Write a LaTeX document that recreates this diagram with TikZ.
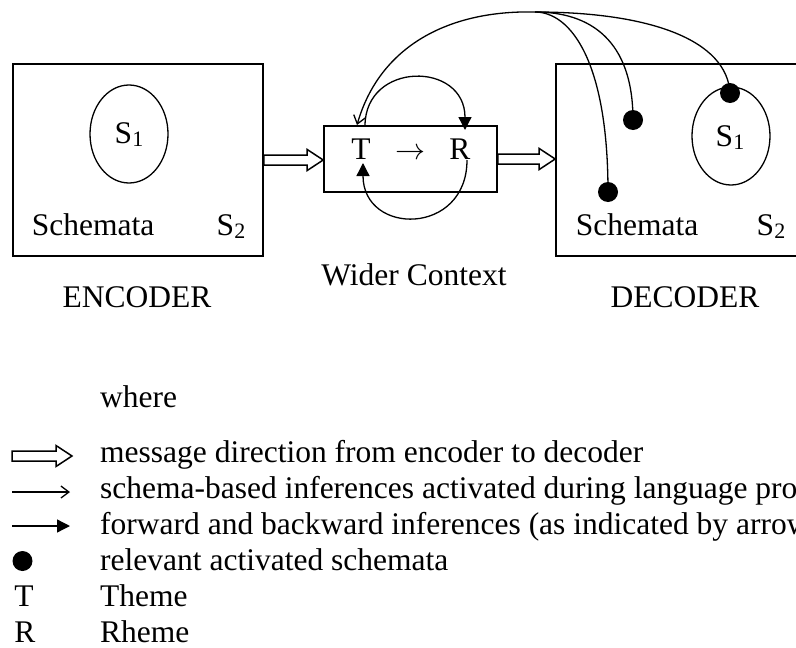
\documentclass[tikz,border=0pt]{standalone}
\usepackage{fontspec}
\usepackage{graphicx}
\setmainfont{Liberation Serif}
\usetikzlibrary{arrows.meta,shapes.geometric,calc}
\newcommand\fs{\fontsize{31.5}{37}\selectfont}
\newcommand\sbs[1]{\raisebox{-3.5pt}{\fontsize{22}{22}\selectfont #1}}
\newcommand\blockarr[2]{\draw[blk] let \p1=(#1), \p2=(#2) in
  ({\x1},{\y1+5pt}) -- ({\x2-16pt},{\y1+5pt}) -- ({\x2-16pt},{\y1+10.5pt}) --
  ({\x2},{\y1}) -- ({\x2-16pt},{\y1-10.5pt}) -- ({\x2-16pt},{\y1-5pt}) --
  ({\x1},{\y1-5pt}) -- cycle;}
\begin{document}
\begin{tikzpicture}[x=1pt,y=-1pt,
  every node/.style={font=\fs},
  lbl/.style={anchor=base, inner sep=0pt},
  box/.style={draw, line width=1.6pt, inner sep=0pt},
  ell/.style={draw, ellipse, line width=1.3pt, minimum width=78pt, minimum height=98pt, inner sep=0pt},
  dot/.style={circle, fill, minimum size=20pt, inner sep=0pt},
  blk/.style={line width=1.5pt, line join=miter},
  ln/.style={line width=1.3pt},
  fwd/.style={ln, -{Triangle[length=13pt,width=13pt]}},
  inf/.style={ln, -{Straight Barb[length=8pt,width=12pt]}}]
\useasboundingbox (0,0) rectangle (796,648);

% Encoder
\node[box, minimum width=250pt, minimum height=192pt] (enc) at (138,160) {};
\node[ell] (encS1) at (129,134) {};
\node[lbl] (encS1t) at (129,143) {S\sbs{1}};
\node[lbl] (encsch) at (93,235) {Schemata};
\node[lbl] (encS2) at (231,235) {S\sbs{2}};
\node[lbl] (enclab) at (137,307) {ENCODER};

% Wider context
\node[box, minimum width=173pt, minimum height=66pt] (mid) at (410.5,159) {};
\node[lbl] (T) at (361,159) {T};
\node[lbl] (arr) at (410,159) {\resizebox{30pt}{!}{$\rightarrow$}};
\node[lbl] (R) at (460,159) {R};
\node[lbl] (wc) at (414,285) {Wider Context};

% Decoder
\node[box, minimum width=300pt, minimum height=192pt] (dec) at (706,160) {};
\node[ell] (decS1) at (731,136) {};
\node[lbl] (decS1t) at (730,146) {S\sbs{1}};
\node[lbl] (decsch) at (637,235) {Schemata};
\node[lbl] (decS2) at (771,235) {S\sbs{2}};
\node[lbl] (declab) at (685,307) {DECODER};

% message arrows
\blockarr{enc.east}{mid.west}
\blockarr{mid.east}{dec.west}

% T -> R loops
\draw[fwd] ($(T.base)+(4,-33)$) .. controls +(0,-65) and +(0,-69) .. ($(R.base)+(5,-29)$);
\draw[fwd] ($(R.base)+(7,1)$) .. controls +(0,76) and +(0,73) .. ($(T.base)+(2,4)$);

% schema-based inferences
\coordinate (hub) at (535,12);
\node[dot] (d1) at (730,93) {};
\node[dot] (d2) at (633,120) {};
\node[dot] (d3) at (608,192) {};
\draw[ln] (hub) .. controls (650,12) and (727,40) .. (d1.center);
\draw[ln] (hub) .. controls (590,12) and (633,40) .. (d2.center);
\draw[ln] (hub) .. controls (570,12) and (608,60) .. (d3.center);
\draw[inf] (hub) .. controls (450,10) and (380,45) .. ($(T.base)+(-4,-34)$);

% Legend
\node[lbl, anchor=base west] (where) at (100,407) {where};
\coordinate (la1) at (12,456); \coordinate (la2) at (72,456);
\blockarr{la1}{la2}
\node[lbl, anchor=base west] (t1) at (100,462) {message direction from encoder to decoder};
\coordinate (lb1) at (12,492); \coordinate (lb2) at (70,492);
\draw[inf] (lb1) -- (lb2);
\node[lbl, anchor=base west] (t2) at (100,498) {schema-based inferences activated during language processing};
\coordinate (lc1) at (12,526); \coordinate (lc2) at (70,526);
\draw[fwd] (lc1) -- (lc2);
\node[lbl, anchor=base west] (t3) at (100,534) {forward and backward inferences (as indicated by arrows)};
\node[dot] (ld) at (22.5,561) {};
\node[lbl, anchor=base west] (t4) at (100,570) {relevant activated schemata};
\node[lbl] (lT) at (24,606) {T};
\node[lbl, anchor=base west] (t5) at (100,606) {Theme};
\node[lbl] (lR) at (25,642) {R};
\node[lbl, anchor=base west] (t6) at (100,642) {Rheme};
\end{tikzpicture}
\end{document}
